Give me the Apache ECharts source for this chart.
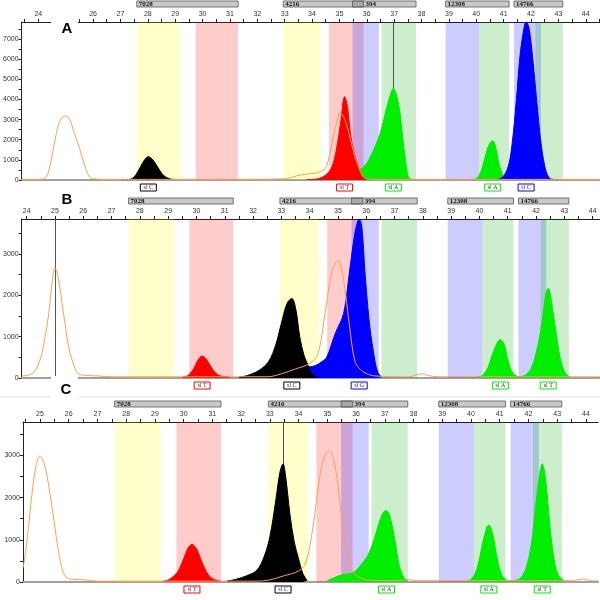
<!DOCTYPE html>
<html><head><meta charset="utf-8">
<script src="https://cdn.jsdelivr.net/npm/echarts@6/dist/echarts.min.js"></script>
<style>html,body{margin:0;padding:0;background:#fff}#c{width:600px;height:600px}</style>
</head><body><div id="c"></div>
<script>
// ================= DATA =================
const xTickLabels = [24,25,26,27,28,29,30,31,32,33,34,35,36,37,38,39,40,41,42,43,44];
const yTickLabelsA = [0,1000,2000,3000,4000,5000,6000,7000];
const yTickLabelsBC = [0,1000,2000,3000];

// bins: [from, to, dye]
const bins = [
  [27.6,29.2,'Y'],[29.75,31.3,'R'],
  [32.95,34.32,'Y'],[34.62,35.88,'R'],[35.48,36.44,'B'],[36.54,37.8,'G'],
  [38.88,40.1,'B'],[40.1,41.2,'G'],
  [41.38,42.36,'B'],[42.16,43.16,'G']
];
// locus marker bars
const markerNames = ['7028','4216','394','12308','14766'];
const markerFrom  = [27.6, 32.95, 35.48, 38.88, 41.38];
const markerTo    = [31.3, 35.88, 37.8, 41.2, 43.16];

// ---- Panel A ----
const aOrange = [[23.39,30],[24.0,30],[24.2,60],[24.35,300],[24.5,1200],[24.6,1900],[24.75,2800],[24.9,3150],[25.0,3180],[25.15,3000],[25.3,2400],[25.5,1600],[25.7,700],[25.85,200],[26.0,60],[26.5,30],[28,30],[31,30],[33.0,60],[33.57,250],[34.0,320],[34.3,410],[34.5,600],[34.65,1300],[34.8,2300],[34.95,3100],[35.02,3350],[35.2,3000],[35.35,2300],[35.5,1500],[35.6,1000],[35.7,650],[35.85,200],[36.0,60],[36.3,30],[44.52,30]];
const aBlack = [[27.0,20],[27.3,20],[27.5,150],[27.65,450],[27.8,820],[27.95,1120],[28.02,1160],[28.15,1050],[28.3,780],[28.45,450],[28.6,200],[28.8,60],[29.0,20]];
const aRed = [[33.8,20],[34.2,60],[34.5,250],[34.73,660],[34.9,1600],[35.05,2900],[35.19,4140],[35.3,3600],[35.4,2320],[35.55,1300],[35.7,660],[35.85,150],[36.0,30]];
const aGreen1 = [[34.3,20],[34.8,150],[35.2,300],[35.5,410],[35.75,520],[36.0,830],[36.25,1500],[36.49,2320],[36.74,3650],[36.9,4400],[36.97,4560],[37.07,4300],[37.2,3480],[37.32,1990],[37.45,660],[37.56,80],[37.8,20]];
const aGreen2 = [[39.75,20],[39.97,60],[40.15,350],[40.29,975],[40.45,1700],[40.6,1950],[40.7,1700],[40.8,975],[40.95,300],[41.07,60],[41.25,20]];
const aBlue = [[40.7,20],[40.93,100],[41.15,600],[41.3,1700],[41.46,3900],[41.6,6200],[41.75,7600],[41.82,7850],[41.92,7600],[42.05,6200],[42.21,3900],[42.35,2000],[42.5,700],[42.64,150],[42.8,30],[43.0,20]];
const aAlleleX = [28.02, 35.19, 36.97, 40.6, 41.82];
const aAlleleText = ['sl C','sl T','sl A','sl A','sl C'];
const aAlleleDye = ['K','R','G','G','B'];

// ---- Panel B ----
const bOrange = [[23.82,50],[24.0,60],[24.27,150],[24.5,500],[24.65,1000],[24.77,1500],[24.9,2300],[25.0,2667],[25.12,2400],[25.25,1800],[25.35,1333],[25.5,700],[25.7,250],[25.85,90],[26.2,60],[26.5,50],[27,30],[32.5,30],[33.0,100],[33.5,220],[34.0,350],[34.3,600],[34.55,1600],[34.8,2600],[35.0,2830],[35.2,2350],[35.4,1300],[35.6,400],[35.8,200],[36.0,110],[36.3,50],[37.5,30],[37.8,80],[38.0,100],[38.2,60],[38.5,30],[44.26,30]];
const bRed = [[29.5,20],[29.7,60],[29.9,220],[30.05,430],[30.2,530],[30.35,450],[30.55,230],[30.75,80],[31.0,30],[31.2,20]];
const bBlack = [[31.5,20],[31.8,60],[32.2,180],[32.55,400],[32.8,800],[33.0,1320],[33.2,1800],[33.37,1920],[33.5,1700],[33.65,1000],[33.8,550],[33.95,300],[34.1,80],[34.3,20]];
const bBlue = [[33.0,30],[33.3,150],[33.6,260],[34.0,270],[34.2,300],[34.4,380],[34.6,500],[34.9,1070],[35.2,1560],[35.4,2530],[35.6,3500],[35.75,3840],[35.85,3600],[35.95,2600],[36.1,1400],[36.25,650],[36.4,150],[36.55,20]];
const bGreen1 = [[39.9,20],[40.1,60],[40.3,250],[40.5,650],[40.74,930],[40.88,800],[41.0,450],[41.15,150],[41.35,40],[41.6,30]];
const bGreen2 = [[41.4,30],[41.6,60],[41.8,200],[42.0,600],[42.2,1300],[42.35,2050],[42.43,2170],[42.6,1600],[42.75,900],[42.9,350],[43.05,100],[43.2,30]];
const bAlleleX = [30.2, 33.37, 35.75, 40.74, 42.43];
const bAlleleText = ['sl T','sl C','sl G','sl A','sl T'];
const bAlleleDye = ['R','K','B','G','G'];

// ---- Panel C ----
const cOrange = [[24.41,330],[24.5,700],[24.6,1300],[24.7,1950],[24.85,2700],[25.0,2985],[25.15,2800],[25.3,2300],[25.5,1400],[25.65,700],[25.8,250],[25.95,90],[26.2,60],[26.6,50],[27,20],[32.5,20],[33.0,50],[33.5,150],[34.0,260],[34.25,450],[34.5,1300],[34.75,2550],[34.92,3000],[35.07,3100],[35.22,2900],[35.37,2300],[35.52,1400],[35.72,600],[35.92,220],[36.2,80],[36.6,40],[37.5,30],[37.8,60],[38.1,30],[43.5,30],[43.9,70],[44.2,30],[44.42,30]];
const cRed = [[29.3,20],[29.5,60],[29.8,250],[30.0,550],[30.15,800],[30.29,890],[30.45,780],[30.65,450],[30.85,180],[31.05,60],[31.3,20]];
const cBlack = [[31.5,20],[31.8,60],[32.2,150],[32.55,280],[32.8,600],[33.0,1070],[33.2,1900],[33.35,2600],[33.46,2800],[33.55,2500],[33.7,1600],[33.85,950],[34.0,550],[34.15,200],[34.3,30]];
const cGreen1 = [[35.0,30],[35.2,90],[35.5,170],[35.9,220],[36.1,350],[36.4,620],[36.6,950],[36.8,1400],[36.95,1650],[37.06,1690],[37.2,1500],[37.35,1000],[37.5,400],[37.65,120],[37.8,30]];
const cGreen2 = [[39.8,20],[40.0,60],[40.2,300],[40.4,900],[40.55,1300],[40.62,1350],[40.75,1150],[40.9,600],[41.05,200],[41.25,40],[41.5,20]];
const cGreen3 = [[41.5,30],[41.7,80],[41.9,300],[42.1,900],[42.25,1800],[42.4,2600],[42.48,2800],[42.6,2400],[42.75,1300],[42.9,500],[43.05,150],[43.25,30]];
const cAlleleX = [30.29, 33.46, 37.06, 40.62, 42.48];
const cAlleleText = ['sl T','sl C','sl A','sl A','sl T'];
const cAlleleDye = ['R','K','G','G','G'];

const cursorX = [36.97, 25.0, 33.46];
const cursorFromY = [4560, 0, 0];

// ================= STYLE / LAYOUT =================
const dyeColor = {K:'#000000', R:'#ff0000', B:'#0000ff', G:'#00ee00', O:'#ffa04a'};
const binColor = {Y:'rgba(255,255,0,0.2)', R:'rgba(255,0,0,0.2)', B:'rgba(0,0,255,0.2)', G:'rgba(0,170,0,0.2)'};

const panels = [
  {grid:{left:21, top:22, width:579, height:158}, xmin:23.39, xmax:44.52, ymax:7850, yLabels:yTickLabelsA,
   peaks:[['G',aGreen1],['G',aGreen2],['R',aRed],['B',aBlue],['K',aBlack]], orange:aOrange,
   alleleX:aAlleleX, alleleText:aAlleleText, alleleDye:aAlleleDye, letter:'A'},
  {grid:{left:19, top:219, width:581, height:159}, xmin:23.82, xmax:44.26, ymax:3840, yLabels:yTickLabelsBC,
   peaks:[['G',bGreen1],['G',bGreen2],['R',bRed],['B',bBlue],['K',bBlack]], orange:bOrange,
   alleleX:bAlleleX, alleleText:bAlleleText, alleleDye:bAlleleDye, letter:'B'},
  {grid:{left:23, top:422, width:575, height:160}, xmin:24.41, xmax:44.42, ymax:3790, yLabels:yTickLabelsBC,
   peaks:[['G',cGreen1],['G',cGreen2],['G',cGreen3],['R',cRed],['K',cBlack]], orange:cOrange,
   alleleX:cAlleleX, alleleText:cAlleleText, alleleDye:cAlleleDye, letter:'C'}
];

const FONT = 'Liberation Sans, Arial, sans-serif';
const plain = v => String(Math.round(v));
const grids = [], xAxes = [], yAxes = [], series = [];
panels.forEach((p, i) => {
  grids.push(Object.assign({containLabel:false}, p.grid));
  const xt = xTickLabels.filter(v => v >= p.xmin && v <= p.xmax);
  const halfTicks = [];
  for (let v = Math.ceil(p.xmin*2)/2; v <= p.xmax; v += 0.5) halfTicks.push(v);
  xAxes.push({gridIndex:i, type:'value', position:'top', min:p.xmin, max:p.xmax,
    axisLine:{onZero:false, lineStyle:{color:'#222', width:1}},
    axisTick:{customValues:halfTicks, length:3, lineStyle:{color:'#222'}},
    axisLabel:{customValues:xt, formatter:plain, fontSize:7, color:'#333', margin:4, fontFamily:FONT},
    splitLine:{show:false}});
  xAxes.push({gridIndex:i, type:'value', position:'bottom', min:p.xmin, max:p.xmax,
    axisLine:{onZero:false, lineStyle:{color:'#a0a0a0', width:2}},
    axisTick:{show:false}, axisLabel:{show:false}, splitLine:{show:false}});
  const yt = [];
  for (let v = 0; v <= p.ymax; v += 500) yt.push(v);
  yAxes.push({gridIndex:i, type:'value', min:0, max:p.ymax,
    axisLine:{show:true, onZero:false, lineStyle:{color:'#222'}},
    axisTick:{show:true, customValues:yt, length:3, lineStyle:{color:'#222'}},
    axisLabel:{customValues:p.yLabels, formatter:plain, fontSize:7, color:'#333', margin:3, fontFamily:FONT},
    splitLine:{show:false}});
  const xi = 2*i;
  series.push({type:'line', xAxisIndex:xi, yAxisIndex:i, data:[], silent:true, z:1,
    markArea:{silent:true, data: bins.map(b => [{xAxis:b[0], itemStyle:{color:binColor[b[2]]}}, {xAxis:b[1]}])}});
  p.peaks.forEach(([dye, d], k) => {
    series.push({type:'line', xAxisIndex:xi, yAxisIndex:i, data:d, smooth:0.35, symbol:'none', silent:true,
      z:2+k, lineStyle:{color:dyeColor[dye], width:1}, itemStyle:{color:dyeColor[dye]},
      areaStyle:{color:dyeColor[dye], opacity:1}});
  });
  series.push({type:'line', xAxisIndex:xi, yAxisIndex:i, data:p.orange, smooth:0.35, symbol:'none', silent:true,
    z:9, lineStyle:{color:dyeColor.O, width:1}, itemStyle:{color:dyeColor.O}});
  series.push({type:'line', xAxisIndex:xi, yAxisIndex:i, data:[], silent:true, z:10,
    markLine:{silent:true, symbol:['none','none'], label:{show:false},
      lineStyle:{color:'#555', width:1, type:'solid'},
      data:[[{coord:[cursorX[i], p.ymax]}, {coord:[cursorX[i], cursorFromY[i]]}]]}});
});

const chart = echarts.init(document.getElementById('c'), null, {renderer:'canvas'});
chart.setOption({animation:false, backgroundColor:'#fff', grid:grids, xAxis:xAxes, yAxis:yAxes, series:series});

// ---- graphic overlays computed through the axes ----
const g = [];
g.push({type:'line', shape:{x1:0, y1:397, x2:600, y2:397}, style:{stroke:'#e2e2e2', lineWidth:1}, z:50});
panels.forEach((p, i) => {
  const xi = 2*i;
  const px = v => chart.convertToPixel({xAxisIndex:xi}, v);
  const top = chart.convertToPixel({yAxisIndex:i}, p.ymax);
  const base = chart.convertToPixel({yAxisIndex:i}, 0);
  markerNames.forEach((name, k) => {
    const x1 = px(markerFrom[k]), x2 = px(markerTo[k]);
    g.push({type:'rect', shape:{x:x1, y:top-21, width:x2-x1, height:6},
      style:{fill:'rgba(120,120,120,0.4)', stroke:'#555', lineWidth:0.8}, z:60});
    const lx = k > 0 && markerTo[k-1] > markerFrom[k] ? px(markerTo[k-1]) : x1;
    g.push({type:'text', x:lx+2, y:top-18, style:{text:name, fontSize:7, fontWeight:'bold', fill:'#111',
      fontFamily:'Liberation Serif, serif', verticalAlign:'middle', align:'left'}, z:61});
  });
  p.alleleX.forEach((ax, k) => {
    const cx = px(ax);
    g.push({type:'rect', shape:{x:cx-8, y:base+4, width:16, height:7},
      style:{fill:'#fff', stroke:dyeColor[p.alleleDye[k]], lineWidth:1}, z:60});
    g.push({type:'text', x:cx, y:base+7.5, style:{text:p.alleleText[k], fontSize:6, fill:'#333',
      fontFamily:'Liberation Serif, serif', align:'center', verticalAlign:'middle'}, z:61});
  });
});
// panel letters
const gl = panels.map(p => p.grid);
g.push({type:'rect', shape:{x:51, y:gl[0].top-12, width:27, height:25}, style:{fill:'#fff'}, z:70});
g.push({type:'text', x:67, y:gl[0].top+7, style:{text:'A', fontSize:15, fontWeight:'bold', fill:'#000', fontFamily:FONT, align:'center', verticalAlign:'middle'}, z:71});
g.push({type:'text', x:67, y:gl[1].top-19, style:{text:'B', fontSize:15, fontWeight:'bold', fill:'#000', fontFamily:FONT, align:'center', verticalAlign:'middle'}, z:71});
g.push({type:'rect', shape:{x:51, y:gl[1].top+gl[1].height-2, width:27, height:25}, style:{fill:'#fff'}, z:70});
g.push({type:'text', x:66, y:gl[2].top-32, style:{text:'C', fontSize:15, fontWeight:'bold', fill:'#000', fontFamily:FONT, align:'center', verticalAlign:'middle'}, z:71});
chart.setOption({graphic:g});
</script>
</body></html>
